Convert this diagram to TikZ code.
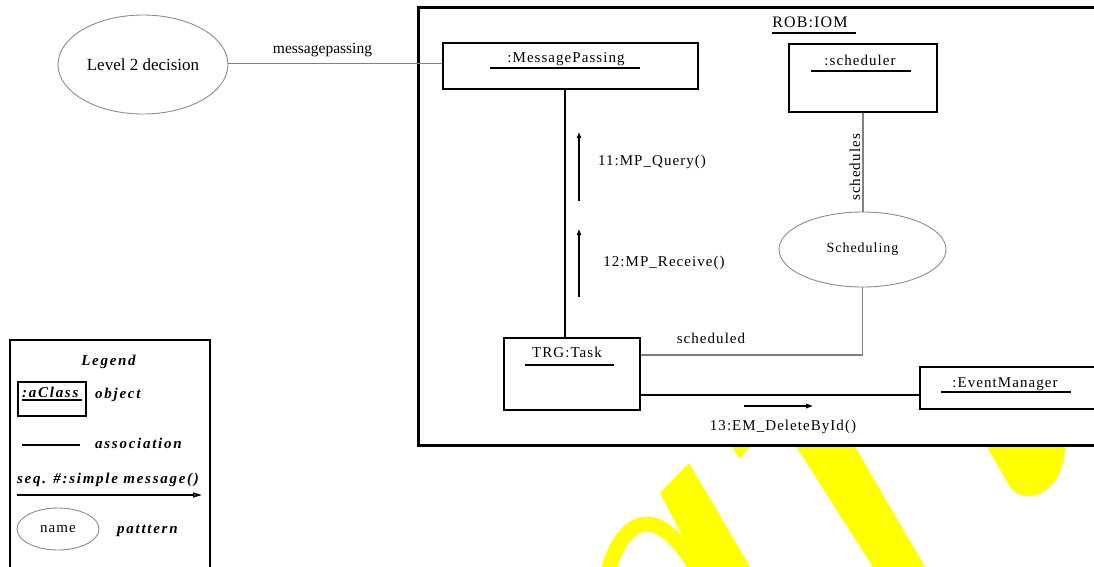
\documentclass[tikz,border=0pt]{standalone}
\usepackage{fontspec}
\setmainfont{Liberation Serif}
\newfontfamily\objf[LetterSpace=7]{Liberation Serif}
\newfontfamily\plainf{Liberation Serif}
\newfontfamily\legf[LetterSpace=11.5]{Liberation Serif}
\newcommand\setfs[1]{\fontsize{#1pt}{#1pt}\selectfont}
\usetikzlibrary{arrows.meta,shapes.geometric}
\definecolor{linegray}{gray}{0.5}
\definecolor{ovalgray}{gray}{0.55}
\definecolor{wmyellow}{RGB}{255,255,0}
\begin{document}
\begin{tikzpicture}[x=1pt,y=-1pt,
  gline/.style={draw=linegray, line width=1.6pt},
  bline/.style={draw=black, line width=2pt},
  ubar/.style={draw=black, line width=1.8pt},
  obj/.style={draw=black, line width=2pt, inner sep=0pt, anchor=north west},
  oval/.style={ellipse, draw=ovalgray, line width=0.9pt, inner sep=0pt},
  otext/.style={inner sep=0pt, font=\objf\setfs{15}, anchor=base},
  ltext/.style={inner sep=0pt, font=\legf\setfs{15}\bfseries\itshape, anchor=base west},
  msg/.style={line width=2pt, -{Triangle[length=6pt,width=4pt]}},
  wm/.style={fill=wmyellow, draw=none}]
\useasboundingbox (0,0) rectangle (1094,566);
\clip (0,0) rectangle (1094,566);

% yellow watermark fragments (behind the package frame)
\fill[wm] (728,440) -- (757,440) -- (739,458) -- cycle;
\draw[wmyellow, line width=15pt] (607,574) .. controls (617,538) and (632,524) .. (647,524) .. controls (664,524) and (684,545) .. (700,575);
\fill[wm] (689,463) -- (753,572) -- (701,572) -- (660,493) -- cycle;
\fill[wm] (792,440) -- (851,440) -- (928,572) -- (876,572) -- cycle;
\fill[wm] (983,440) -- (1010,487) .. controls (1016,494) and (1022,496) .. (1028,496) .. controls (1040,496) and (1052,488) .. (1058,476) .. controls (1063,466) and (1065,455) .. (1066,440) -- cycle;

% package frame ROB:IOM
\node[draw=black, line width=3pt, fill=white, inner sep=0pt, anchor=north west,
      minimum width=700pt, minimum height=438pt] (rob) at (417,6) {};
\node[otext, font=\objf\setfs{16}] (robL) at (810,27) {ROB:IOM};
\draw[ubar] (772,33) -- (856,33);

% collaborating objects
\node[oval, minimum width=170pt, minimum height=99pt, font=\plainf\setfs{17}] (lvl) at (143,64.5) {Level 2 decision};
\node[obj, minimum width=255pt, minimum height=46pt] (mp) at (442,42) {};
\node[otext] (mpL) at (566,62) {:MessagePassing};
\draw[ubar] (490,68) -- (640,68);

\node[obj, minimum width=148pt, minimum height=68pt] (sch) at (788,43) {};
\node[otext] (schL) at (860,65) {:scheduler};
\draw[ubar] (811,71) -- (911,71);

\node[oval, minimum width=167pt, minimum height=75pt, font=\objf\setfs{14}] (schd) at (862.5,249.5) {Scheduling};

\node[obj, minimum width=136pt, minimum height=72pt] (task) at (503,337) {};
\node[otext] (taskL) at (567,357) {TRG:Task};
\draw[ubar] (525,365) -- (614,365);

\node[obj, minimum width=200pt, minimum height=42pt] (em) at (919,366) {};
\node[otext] (emL) at (1005,387) {:EventManager};
\draw[ubar] (941,392) -- (1071,392);

% associations
\coordinate (mpIn) at ([yshift=2.5pt]mp.west);
\draw[gline] (lvl.east |- mpIn) -- (mpIn);
\node[otext, font=\plainf\setfs{15.5}] (mpAssoc) at (322.5,53) {messagepassing};

\coordinate (vx) at (565,0);
\draw[bline] (mp.south -| vx) -- (task.north -| vx);

\draw[gline] (sch.south) -- (sch.south |- schd.north);
\node[otext, rotate=90] (schAssoc) at (860,167.5) {schedules};

\coordinate (tkIn) at ([yshift=19pt]task.east);
\draw[gline] (schd.south) |- (tkIn);
\node[otext] (tkAssoc) at (711,343) {scheduled};

\coordinate (emIn) at ([yshift=-7pt]em.west);
\draw[bline, line width=1.8pt] (task.east |- emIn) -- (emIn);

% messages
\coordinate (m11a) at (579,201); \coordinate (m11b) at (579,132);
\draw[msg] (m11a) -- (m11b);
\node[otext] (m11) at (652,165) {11:MP\_Query()};
\coordinate (m12a) at (579,297); \coordinate (m12b) at (579,229);
\draw[msg] (m12a) -- (m12b);
\node[otext] (m12) at (664,266) {12:MP\_Receive()};
\coordinate (m13a) at (744,406); \coordinate (m13b) at (813,406);
\draw[line width=1.6pt, -{Triangle[open,length=7pt,width=4.5pt]}] (m13a) -- (m13b);
\node[otext] (m13) at (783,430) {13:EM\_DeleteById()};

% legend
\draw[line width=2pt] (10,572) -- (10,340) -- (210,340) -- (210,572);
\node[ltext, anchor=base] (legT) at (108.5,365) {Legend};
\node[obj, minimum width=68pt, minimum height=34pt] (acls) at (17,381) {};
\node[ltext] (aclsL) at (22,397) {:aClass};
\draw[ubar] (22,400) -- (82,400);
\node[ltext] (objT) at (95,398) {object};
\coordinate (asA) at (22,445); \coordinate (asB) at (80,445);
\draw[bline] (asA) -- (asB);
\node[ltext] (assT) at (95,448) {association};
\node[ltext] (seqT) at (17,483) {seq. \#:simple message()};
\coordinate (sqA) at (17,495); \coordinate (sqB) at (202,495);
\draw[line width=1.5pt, -{Triangle[open,length=9pt,width=5pt]}] (sqA) -- (sqB);
\node[oval, minimum width=82pt, minimum height=42pt, font=\objf\setfs{15}] (nm) at (58,529) {name};
\node[ltext] (patT) at (117,533) {patttern};
\end{tikzpicture}
\end{document}
